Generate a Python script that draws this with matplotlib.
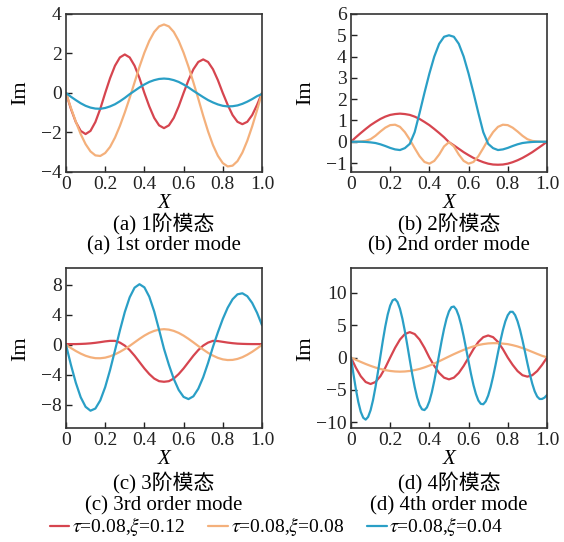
import matplotlib
matplotlib.use('Agg')
import matplotlib.pyplot as plt
import numpy as np

plt.rcParams['font.family'] = ['Liberation Serif', 'Noto Sans CJK SC']
plt.rcParams['mathtext.fontset'] = 'stix'
plt.rcParams['axes.unicode_minus'] = True

# ---------------- data ----------------
x = np.linspace(0, 1, 41)          # sampling grid, step 0.025
x_fine = np.linspace(0, 1, 81)     # sampling grid, step 0.0125

# (a) 1st order mode
a_red = [0, -0.80, -1.47, -1.92, -2.08, -1.92, -1.47, -0.80, 0,
         0.75, 1.38, 1.80, 1.95, 1.80, 1.38, 0.75, 0,
         -0.68, -1.26, -1.64, -1.78, -1.64, -1.26, -0.68, 0,
         0.65, 1.20, 1.57, 1.70, 1.57, 1.20, 0.65, 0,
         -0.60, -1.12, -1.46, -1.58, -1.46, -1.12, -0.60, 0]
a_orange = [0, -0.75, -1.45, -2.08, -2.59, -2.96, -3.16, -3.19, -3.04, -2.73,
            -2.26, -1.67, -0.99, -0.25, 0.54, 1.33, 2.04, 2.64, 3.09, 3.37,
            3.47, 3.37, 3.09, 2.64, 2.04, 1.33, 0.54, -0.29, -1.15, -1.95,
            -2.64, -3.18, -3.55, -3.72, -3.68, -3.45, -3.02, -2.42, -1.69, -0.87, 0]
a_blue = [0, -0.19, -0.36, -0.52, -0.65, -0.74, -0.79, -0.80, -0.76, -0.68,
          -0.57, -0.42, -0.25, -0.06, 0.11, 0.28, 0.43, 0.56, 0.65, 0.71,
          0.73, 0.71, 0.65, 0.56, 0.43, 0.28, 0.11, -0.05, -0.21, -0.36,
          -0.48, -0.58, -0.65, -0.68, -0.67, -0.63, -0.55, -0.44, -0.31, -0.16, -0.05]

# (b) 2nd order mode
b_red = [0, 0.21, 0.41, 0.60, 0.78, 0.93, 1.07, 1.18, 1.26, 1.30,
         1.32, 1.30, 1.26, 1.18, 1.07, 0.93, 0.78, 0.60, 0.41, 0.21,
         -0.02, -0.17, -0.33, -0.49, -0.63, -0.76, -0.87, -0.96, -1.03, -1.07,
         -1.08, -1.07, -1.03, -0.96, -0.87, -0.76, -0.63, -0.49, -0.33, -0.17, 0]
b_orange = [0, 0, 0.01, 0.04, 0.12, 0.28, 0.48, 0.66, 0.78, 0.80,
            0.70, 0.45, 0.10, -0.30, -0.68, -0.95, -1.03, -0.90, -0.60, -0.22,
            -0.02, -0.22, -0.60, -0.90, -1.03, -0.95, -0.68, -0.30, 0.10, 0.45,
            0.70, 0.80, 0.78, 0.66, 0.48, 0.28, 0.12, 0.04, 0.01, 0, 0]
b_blue = [0, 0, 0, -0.01, -0.03, -0.06, -0.12, -0.20, -0.29, -0.36,
          -0.39, -0.30, -0.10, 0.45, 1.35, 2.30, 3.20, 4.00, 4.60, 4.93,
          5.00, 4.93, 4.60, 4.00, 3.20, 2.30, 1.35, 0.45, -0.10, -0.30,
          -0.39, -0.36, -0.29, -0.20, -0.12, -0.06, -0.03, -0.01, 0, 0, 0]

# (c) 3rd order mode
c_red = [0.10, 0.10, 0.10, 0.12, 0.15, 0.20, 0.27, 0.36, 0.46, 0.53,
         0.53, 0.30, -0.10, -0.70, -1.45, -2.30, -3.15, -3.90, -4.50, -4.85,
         -4.93, -4.85, -4.50, -3.90, -3.15, -2.30, -1.45, -0.70, -0.10, 0.30,
         0.53, 0.50, 0.40, 0.30, 0.22, 0.16, 0.13, 0.11, 0.10, 0.10, 0.10]
c_orange = [0, -0.42, -0.82, -1.17, -1.46, -1.66, -1.78, -1.79, -1.71, -1.53,
            -1.27, -0.94, -0.56, -0.14, 0.33, 0.80, 1.23, 1.59, 1.86, 2.03,
            2.09, 2.03, 1.86, 1.59, 1.23, 0.80, 0.33, -0.16, -0.63, -1.07,
            -1.44, -1.74, -1.94, -2.03, -2.01, -1.88, -1.65, -1.32, -0.93, -0.48, 0]
c_blue = [0, -2.65, -5.05, -6.99, -8.27, -8.79, -8.50, -7.41, -5.64, -3.35,
          -0.75, 1.91, 4.37, 6.34, 7.63, 8.09, 7.67, 6.42, 4.46, 2.01,
          -0.53, -2.66, -4.55, -6.02, -6.95, -7.24, -6.87, -5.86, -4.33, -2.41,
          -0.26, 1.67, 3.45, 4.95, 6.08, 6.74, 6.88, 6.49, 5.59, 4.27, 2.62]

# (d) 4th order mode
d_red = [0, -1.57, -2.89, -3.78, -4.09, -3.78, -2.89, -1.57, 0,
         1.51, 2.79, 3.64, 3.94, 3.64, 2.79, 1.51, 0,
         -1.29, -2.38, -3.11, -3.37, -3.11, -2.38, -1.29, 0,
         1.31, 2.42, 3.16, 3.42, 3.16, 2.42, 1.31, 0,
         -1.13, -2.09, -2.73, -2.95, -2.73, -2.09, -1.13, 0]
d_orange = [0, -0.34, -0.67, -0.99, -1.28, -1.54, -1.76, -1.94, -2.07, -2.15,
            -2.18, -2.15, -2.07, -1.94, -1.76, -1.52, -1.24, -0.92, -0.57, -0.20,
            0.17, 0.53, 0.87, 1.19, 1.48, 1.73, 1.94, 2.09, 2.19, 2.23,
            2.22, 2.16, 2.08, 1.92, 1.72, 1.47, 1.19, 0.88, 0.57, 0.27, 0.05]
d_blue = [0, -2.54, -4.89, -6.89, -8.40, -9.31, -9.60, -9.18, -8.15, -6.58,
          -4.56, -2.25, 0.19, 2.60, 4.81, 6.67, 8.04, 8.86, 9.05, 8.59,
          7.55, 6.00, 4.08, 1.90, -0.36, -2.56, -4.54, -6.18, -7.36, -8.01,
          -8.12, -7.71, -6.77, -5.37, -3.61, -1.60, 0.50, 2.57, 4.44, 6.01,
          7.15, 7.80, 7.90, 7.42, 6.43, 5.02, 3.29, 1.36, -0.63, -2.55,
          -4.26, -5.64, -6.64, -7.16, -7.22, -6.78, -5.88, -4.57, -2.96, -1.14,
          0.75, 2.59, 4.24, 5.60, 6.56, 7.08, 7.08, 6.57, 5.61, 4.29,
          2.69, 0.94, -0.85, -2.55, -4.04, -5.23, -6.03, -6.41, -6.40, -6.20, -5.80]

legend_labels = [r'$\tau$=0.08,$\xi$=0.12', r'$\tau$=0.08,$\xi$=0.08', r'$\tau$=0.08,$\xi$=0.04']
captions_cn = ['(a) 1阶模态', '(b) 2阶模态', '(c) 3阶模态', '(d) 4阶模态']
captions_en = ['(a) 1st order mode', '(b) 2nd order mode', '(c) 3rd order mode', '(d) 4th order mode']
xtick_vals = [0, 0.2, 0.4, 0.6, 0.8, 1.0]
xtick_labels = ['0', '0.2', '0.4', '0.6', '0.8', '1.0']
yticks_list = [[-4, -2, 0, 2, 4], [-1, 0, 1, 2, 3, 4, 5, 6], [-8, -4, 0, 4, 8], [-10, -5, 0, 5, 10]]
ylims = [(-4, 4), (-1.42, 6), (-11.1, 10.2), (-10.9, 13.8)]

# ---------------- styling ----------------
colors = ['#d6454f', '#f4b07b', '#2a9fc6']
lw = 1.6

fig = plt.figure(figsize=(5.64, 5.42), dpi=100)
positions = [[0.117, 0.6827, 0.3475, 0.2915],
             [0.6223, 0.6827, 0.3475, 0.2915],
             [0.117, 0.2103, 0.3475, 0.2945],
             [0.6223, 0.2103, 0.3475, 0.2945]]

series = [
    [(x, a_red), (x, a_orange), (x, a_blue)],
    [(x, b_red), (x, b_orange), (x, b_blue)],
    [(x, c_red), (x, c_orange), (x, c_blue)],
    [(x, d_red), (x, d_orange), (x_fine, d_blue)],
]

xlabel_y = [0.624, 0.624, 0.153, 0.153]
cap1_y = [0.588, 0.588, 0.1095, 0.1095]
cap2_y = [0.547, 0.547, 0.0664, 0.0664]

handles = []
for i in range(4):
    ax = fig.add_axes(positions[i])
    for j, (xs, ys) in enumerate(series[i]):
        ln, = ax.plot(xs, ys, color=colors[j], lw=lw, solid_capstyle='round')
        if i == 0:
            handles.append(ln)
    ax.set_xlim(0, 1)
    ax.set_ylim(*ylims[i])
    ax.set_xticks(xtick_vals)
    ax.set_xticklabels(xtick_labels)
    ax.set_yticks(yticks_list[i])
    ax.tick_params(direction='in', length=4, width=1.0, labelsize=14, pad=3,
                   top=False, right=False, colors='#222222')
    for s in ax.spines.values():
        s.set_linewidth(1.2)
        s.set_color('#333333')
    ax.set_ylabel('Im', fontsize=16)
    ax.yaxis.set_label_coords(-0.18, 0.5)
    bb = positions[i]
    cx = bb[0] + bb[2] / 2
    fig.text(cx, xlabel_y[i], 'X', fontsize=15, style='italic', ha='center', va='center')
    fig.text(cx, cap1_y[i], captions_cn[i], fontsize=15, ha='center', va='center')
    fig.text(cx, cap2_y[i], captions_en[i], fontsize=15, ha='center', va='center')

fig.legend(handles, legend_labels, loc='center', bbox_to_anchor=(0.49, 0.028), ncol=3,
           frameon=False, fontsize=14, handlelength=1.0, handletextpad=0.15,
           columnspacing=1.2, borderaxespad=0)

fig.savefig('out.png', dpi=100)
